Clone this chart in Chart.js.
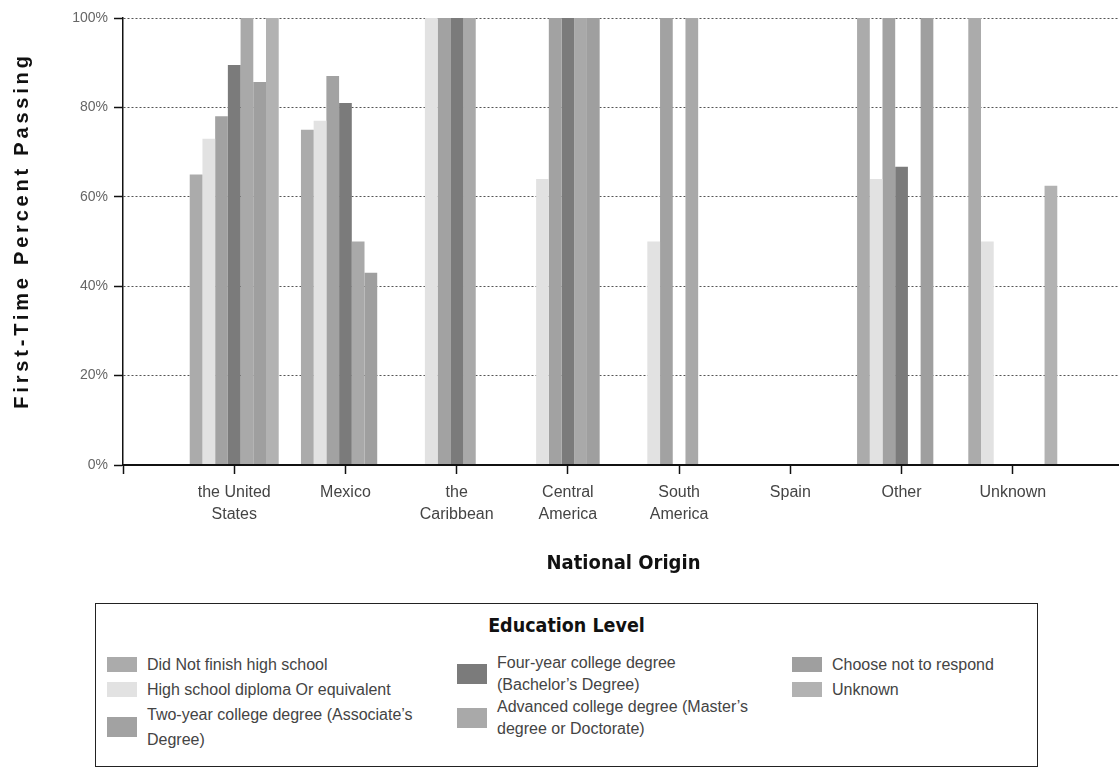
<!DOCTYPE html>
<html>
<head>
<meta charset="utf-8">
<title>First-Time Percent Passing by National Origin</title>
<script src="https://cdn.jsdelivr.net/npm/chart.js@4.4.1/dist/chart.umd.min.js"></script>
<style>
  html, body { margin: 0; padding: 0; background: #fff; }
  body { position: relative; width: 1119px; height: 768px; overflow: hidden; font-family: "Liberation Sans", Arial, sans-serif; }
  #chart { position: absolute; left: 0; top: 0; }
  #legend { position: absolute; left: 95px; top: 603px; width: 943px; height: 164px; box-sizing: border-box; border: 1.5px solid #222; }
  #legend h3 { margin: 0; position: absolute; top: 10px; left: 0; right: 0; text-align: center; font: bold 19.5px "DejaVu Sans Condensed", sans-serif; color: #111; }
  .col { position: absolute; top: 48px; }
  .item { display: flex; align-items: center; }
  .sw { width: 30px; height: 15px; margin-right: 10px; flex: none; }
  .item.two .sw { height: 20px; }
  .txt { font-size: 16px; line-height: 25px; color: #444; white-space: pre; }
  .col.c2 .txt { line-height: 22px; }
</style>
</head>
<body>
<!-- canvas a bit wider than the window: the plot runs off the right edge like the original -->
<canvas id="chart" width="1132" height="590"></canvas>
<div id="legend"><h3>Education Level</h3></div>
<script>
// national origins on the x axis
const origins = [['the United', 'States'], 'Mexico', ['the', 'Caribbean'], ['Central', 'America'], ['South', 'America'], 'Spain', 'Other', 'Unknown'];

// education levels (legend), \n marks where the legend wraps
const educationLevels = [
  'Did Not finish high school',
  'High school diploma Or equivalent',
  'Two-year college degree (Associate\u2019s\nDegree)',
  'Four-year college degree\n(Bachelor\u2019s Degree)',
  'Advanced college degree (Master\u2019s\ndegree or Doctorate)',
  'Choose not to respond',
  'Unknown'
];

// first-time percent passing, one value per origin
const didNotFinish = [65, 75, 0, 0, 0, 0, 100, 100];
const highSchool   = [73, 77, 100, 64, 50, 0, 64, 50];
const twoYear      = [78, 87, 100, 100, 100, 0, 100, 0];
const fourYear     = [89.5, 81, 100, 100, 0, 0, 66.7, 0];
const advanced     = [100, 50, 100, 100, 100, 0, 0, 0];
const chooseNot    = [85.7, 43, 0, 100, 0, 0, 100, 0];
const unknownEd    = [100, 0, 0, 0, 0, 0, 0, 62.5];

const yTicks = [0, 20, 40, 60, 80, 100];

const seriesValues = [didNotFinish, highSchool, twoYear, fourYear, advanced, chooseNot, unknownEd];
const seriesColors = ['#ababab', '#e2e2e2', '#a2a2a2', '#7b7b7b', '#a9a9a9', '#9f9f9f', '#b2b2b2'];

// empty slot on each side so the groups sit where the original put them
const labels = [''].concat(origins, ['']);

const datasets = seriesValues.map((vals, i) => ({
  label: educationLevels[i],
  data: [null].concat(vals, [null]),
  backgroundColor: seriesColors[i],
  borderWidth: 0,
  barPercentage: 1,
  categoryPercentage: 0.8
}));

const yTitle = {
  id: 'yTitle',
  afterDraw(chart) {
    const ctx = chart.ctx;
    const area = chart.chartArea;
    ctx.save();
    ctx.translate(22, (area.top + area.bottom) / 2 - 11);
    ctx.rotate(-Math.PI / 2);
    ctx.font = 'bold 20px "Liberation Sans", Arial, sans-serif';
    ctx.letterSpacing = '3.8px';
    ctx.fillStyle = '#111';
    ctx.textAlign = 'center';
    ctx.textBaseline = 'middle';
    ctx.fillText('First-Time Percent Passing', 0, 0);
    ctx.restore();
  }
};

const chart = new Chart(document.getElementById('chart'), {
  type: 'bar',
  data: { labels, datasets },
  plugins: [yTitle],
  options: {
    responsive: false,
    animation: false,
    layout: { padding: { top: 18, right: 0, bottom: 0, left: 0 } },
    plugins: { legend: { display: false }, tooltip: { enabled: false } },
    scales: {
      x: {
        offset: false,
        grid: { display: true, drawOnChartArea: false, drawTicks: true, tickLength: 9, tickColor: '#111', tickWidth: 1.5, offset: false },
        border: { display: true, color: '#111', width: 2, z: 1 },
        ticks: {
          autoSkip: false, maxRotation: 0, padding: 8, color: '#444',
          font: { family: '"Liberation Sans", Arial, sans-serif', size: 16, lineHeight: 1.35 }
        },
        title: {
          display: true, text: 'National Origin', color: '#111',
          font: { family: '"DejaVu Sans Condensed", sans-serif', size: 20, weight: 'bold' },
          padding: { top: 0, bottom: 14 }
        },
        afterFit(scale) { scale.height = 125; }
      },
      y: {
        min: 0, max: 100,
        afterBuildTicks(scale) { scale.ticks = yTicks.map(v => ({ value: v })); },
        grid: { color: '#555', lineWidth: 1, tickLength: 9, tickColor: '#111', tickWidth: 1.5 },
        border: { display: true, color: '#111', width: 1.5, dash: [2, 2], z: 1 },
        ticks: {
          padding: 6, color: '#666',
          font: { family: '"Liberation Sans", Arial, sans-serif', size: 14 },
          callback: v => v + '%'
        },
        afterFit(scale) { scale.width = 123; }
      }
    }
  }
});

// legend in three columns, built from the chart's datasets
const legendEl = document.getElementById('legend');
const columns = [[0, 1, 2], [3, 4], [5, 6]];
const colLeft = [11, 361, 696];
columns.forEach((idxs, c) => {
  const col = document.createElement('div');
  col.className = 'col c' + (c + 1);
  col.style.left = colLeft[c] + 'px';
  idxs.forEach(i => {
    const ds = chart.data.datasets[i];
    const item = document.createElement('div');
    item.className = 'item' + (ds.label.includes('\n') ? ' two' : '');
    const sw = document.createElement('span');
    sw.className = 'sw';
    sw.style.background = ds.backgroundColor;
    const txt = document.createElement('span');
    txt.className = 'txt';
    txt.textContent = ds.label;
    item.appendChild(sw);
    item.appendChild(txt);
    col.appendChild(item);
  });
  legendEl.appendChild(col);
});
</script>
</body>
</html>
